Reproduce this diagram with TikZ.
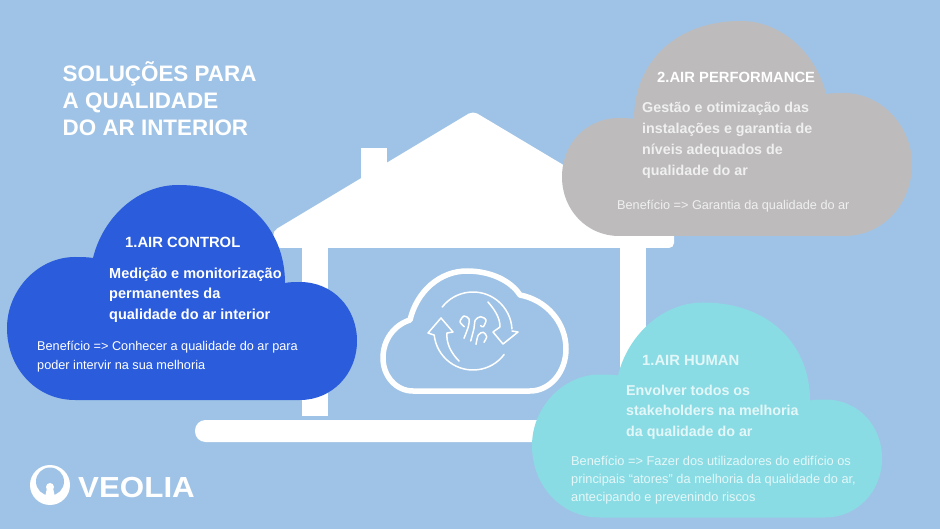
\documentclass[tikz,border=0pt]{standalone}
\usepackage{fontspec}
\setmainfont{Liberation Sans}
\definecolor{skybg}{HTML}{9FC3E6}
\definecolor{cloudblue}{HTML}{2A5CDC}
\definecolor{cloudgray}{HTML}{BDBBBC}
\definecolor{cloudcyan}{HTML}{8ADCE4}
\definecolor{softwhite}{HTML}{E4F7F8}
\definecolor{softgray}{HTML}{F0F0F0}
\newcommand{\cloudshape}{
  (75,400) .. controls (36,400) and (7,368) .. (7,328)
  .. controls (7,290) and (38,257) .. (75,257)
  .. controls (81,257) and (87,257) .. (93,258)
  .. controls (103,217) and (138,185) .. (178,185)
  .. controls (245,185) and (285,228) .. (285,283)
  .. controls (290,282) and (295,282) .. (300,282)
  .. controls (333,282) and (357,308) .. (357,341)
  .. controls (357,374) and (332,400) .. (300,400)
  -- cycle}
\tikzset{
  headtext/.style={anchor=base west,inner sep=0pt,text=white,font=\bfseries\fontsize{14.8}{14.8}\selectfont},
  leadtext/.style={anchor=north west,inner sep=0pt,align=left,text=white,font=\bfseries\fontsize{14.5}{20.7}\selectfont},
  gaintext/.style={anchor=north west,inner sep=0pt,align=left,text=white,font=\fontsize{12.7}{19}\selectfont},
  iconline/.style={draw=white,line width=1.5pt,line cap=round,line join=round},
}

\begin{document}
\begin{tikzpicture}[x=1pt,y=-1pt]

    \useasboundingbox (0,0) rectangle (940,529);
    \fill [skybg] (0,0) rectangle (940,529);

    % house
    \fill [white, rounded corners=5pt]
      (273,248) -- (273,231) -- (473,111) -- (674,231) -- (674,248) -- cycle;
    \fill [white] (361,148) rectangle (387,190);
    \fill [white] (302,240) rectangle (328,416);
    \fill [white] (620,240) rectangle (646,416);
    \fill [white, rounded corners=10.5pt] (195,420) rectangle (600,442);

    % cloud icon
    \draw [white, line width=5.5pt, line join=round]
      (413,391) .. controls (396,391) and (383,376) .. (383,358)
      .. controls (383,340) and (394,325) .. (410,320)
      .. controls (417,291) and (440,271) .. (467,271)
      .. controls (491,271) and (511,281) .. (520,295)
      .. controls (546,300) and (566,322) .. (566,349)
      .. controls (566,372) and (550,391) .. (530,391)
      -- cycle;
    \draw [iconline] (473,331) ++(218:39) arc (218:357:39);
    \draw [iconline] (473,331) ++(37:39) arc (37:174:39);
    \draw [iconline] (488,302) .. controls (495,310) and (500,318) .. (500,327)
      -- (493,332) -- (503,344) -- (518,332) -- (512,331);
    \draw [iconline] (459,361) .. controls (451,353) and (446,343) .. (447,333)
      -- (453,332) -- (441,318) -- (428,333) -- (434,335);
    \draw [iconline] plot [smooth] coordinates {(464.3,326.7) (460,321.7) (464,316) (469,319) (468.3,326.7) (464,338.3)};
    \draw [iconline] plot [smooth] coordinates {(470.7,341) (474,328.3) (475.3,320) (480.7,316.7) (486,320) (483.3,326.7) (480.7,325.7)};
    \draw [iconline] plot [smooth] coordinates {(476,344.3) (478.3,335) (483.3,332.3) (486.7,336.7) (484,342.3)};

    % clouds
    \fill [cloudblue] \cloudshape;
    \begin{scope}[xshift=919pt,yshift=164pt,xscale=-1]
      \fill [cloudgray] \cloudshape;
    \end{scope}
    \begin{scope}[xshift=525pt,yshift=-117.5pt]
      \fill [cloudcyan] \cloudshape;
    \end{scope}

    % title
    \node [anchor=north west,inner sep=0pt,align=left,text=white,font=\bfseries\fontsize{22.4}{27}\selectfont]
      (title) at (62.5,61.5) {SOLUÇÕES PARA\\A QUALIDADE\\DO AR INTERIOR};

    % air control
    \node [headtext] (controlhead) at (125,248) {1.AIR CONTROL};
    \node [leadtext] (controllead) at (109,267.5) {Medição e monitorização\\permanentes da\\qualidade do ar interior};
    \node [gaintext] (controlgain) at (37,341) {Benefício => Conhecer a qualidade do ar para\\poder intervir na sua melhoria};

    % air performance
    \node [headtext] (perfhead) at (657,83) {2.AIR PERFORMANCE};
    \node [leadtext,text=softgray,font=\bfseries\fontsize{14.3}{21}\selectfont] (perflead) at (642,101.5) {Gestão e otimização das\\instalações e garantia de\\níveis adequados de\\qualidade do ar};
    \node [gaintext,text=softgray] (perfgain) at (617,200) {Benefício => Garantia da qualidade do ar};

    % air human
    \node [headtext,text=softwhite] (humanhead) at (642,366) {1.AIR HUMAN};
    \node [leadtext,text=softwhite,font=\bfseries\fontsize{14.3}{20.7}\selectfont] (humanlead) at (626,384.5) {Envolver todos os\\stakeholders na melhoria\\da qualidade do ar};
    \node [gaintext,text=softwhite,font=\fontsize{12.8}{18.3}\selectfont] (humangain) at (571,455.5) {Benefício => Fazer dos utilizadores do edifício os\\principais “atores” da melhoria da qualidade do ar,\\antecipando e prevenindo riscos};

    % logo
    \fill [white] (50,485) circle (20pt);
    \fill [skybg] (50,481.5) circle (14pt);
    \fill [white] (50,487) circle (4pt);
    \fill [white] (47,488) -- (53,488) -- (55,497) -- (45,497) -- cycle;
    \node [anchor=base west,inner sep=0pt,text=white,font=\bfseries\fontsize{29}{29}\selectfont,xscale=1.08]
      (logotext) at (78,497) {VEOLIA};

\end{tikzpicture}
\end{document}
